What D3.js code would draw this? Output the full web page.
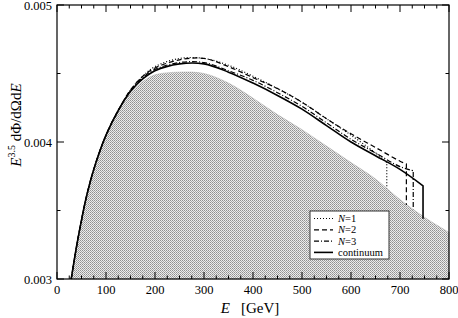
<!DOCTYPE html>
<html>
<head>
<meta charset="utf-8">
<script src="https://cdn.jsdelivr.net/npm/d3@7"></script>
<style>
body { margin: 0; background: #fff; }
svg text { font-family: "Liberation Serif", "Times New Roman", serif; }
</style>
</head>
<body>
<div id="chart"></div>
<script>
// energies (GeV) and values for each curve
var shadeE = [29, 40, 50, 60, 75, 100, 125, 150, 175, 200, 250, 300, 350, 400, 450, 500, 550, 600, 650, 700, 750, 800];
var shadeV = [0.00300, 0.00324, 0.00343, 0.00360, 0.00380, 0.00405, 0.00423, 0.00436, 0.00444, 0.00449, 0.00451, 0.00450, 0.00443, 0.00432, 0.00420, 0.00409, 0.00397, 0.00385, 0.00373, 0.00358, 0.00345, 0.00334];

var lineE = [29, 40, 50, 60, 75, 100, 125, 150, 175, 200, 250, 300, 350, 400, 450, 500, 550, 600, 650, 700, 750];
var contV = [0.00300, 0.00324, 0.00343, 0.00360, 0.00380, 0.00405, 0.00423, 0.00437, 0.00446, 0.00452, 0.00457, 0.00457, 0.00451, 0.00443, 0.00434, 0.00424, 0.00412, 0.00400, 0.00390, 0.00380, 0.00368];
var n1V = [0.00300, 0.00324, 0.00343, 0.00360, 0.00380, 0.00405, 0.00423, 0.00438, 0.00448, 0.00455, 0.00461, 0.00461, 0.00456, 0.00448, 0.00439, 0.00429, 0.00417, 0.00405, 0.00392];
var n2V = [0.00300, 0.00324, 0.00343, 0.00360, 0.00380, 0.00405, 0.00423, 0.00438, 0.00448, 0.00454, 0.00460, 0.00461, 0.00455, 0.00447, 0.00439, 0.00429, 0.00417, 0.00406, 0.00396, 0.00386];
var n3V = [0.00300, 0.00324, 0.00343, 0.00360, 0.00380, 0.00405, 0.00423, 0.00437, 0.00447, 0.00453, 0.00458, 0.00458, 0.00452, 0.00445, 0.00436, 0.00426, 0.00414, 0.00402, 0.00392, 0.00382];

// where each curve stops and how far its vertical edge drops
var endE = [673, 713, 727, 747];
var endTop = [0.00385, 0.00384, 0.00379, 0.00368];
var endBottom = [0.00366, 0.00354, 0.00351, 0.00344];

var seriesNames = ["N=1", "N=2", "N=3", "continuum"];
var dashes = ["1,2", "5,3", "5,2,1,2", null];

var xTicks = [0, 100, 200, 300, 400, 500, 600, 700, 800];
var yTicks = [0.003, 0.004, 0.005];

var W = 458, H = 318;
var svg = d3.select("#chart").append("svg").attr("width", W).attr("height", H);

var x = d3.scaleLinear().domain([0, 800]).range([57, 449]);
var y = d3.scaleLinear().domain([0.003, 0.005]).range([279, 5]);

// stipple pattern
var defs = svg.append("defs");
var pat = defs.append("pattern").attr("id", "stip").attr("patternUnits", "userSpaceOnUse")
    .attr("width", 2).attr("height", 2);
pat.append("rect").attr("width", 2).attr("height", 2).attr("fill", "#ececec");
pat.append("rect").attr("width", 1).attr("height", 1).attr("fill", "#909090");
pat.append("rect").attr("x", 1).attr("y", 1).attr("width", 1).attr("height", 1).attr("fill", "#a8a8a8");

var shadeData = shadeE.map(function (e, i) { return [e, shadeV[i]]; });
var area = d3.area().x(function (d) { return x(d[0]); })
    .y0(y(0.003)).y1(function (d) { return y(d[1]); })
    .curve(d3.curveCatmullRom.alpha(0.5));
svg.append("path").datum(shadeData).attr("d", area).attr("fill", "url(#stip)")
    .attr("stroke", "#aaa").attr("stroke-width", 0.5);

// curves
var allV = [n1V, n2V, n3V, contV];
var line = d3.line().x(function (d) { return x(d[0]); }).y(function (d) { return y(d[1]); })
    .curve(d3.curveCatmullRom.alpha(0.5));

allV.forEach(function (vals, k) {
    var pts = [];
    for (var i = 0; i < vals.length; i++) {
        if (lineE[i] < endE[k]) pts.push([lineE[i], vals[i]]);
    }
    pts.push([endE[k], endTop[k]]);
    svg.append("path")
        .attr("d", line(pts) + "L" + x(endE[k]) + "," + y(endBottom[k]))
        .attr("fill", "none")
        .attr("stroke", "#000")
        .attr("stroke-width", k === 3 ? 1.6 : 1.2)
        .attr("stroke-dasharray", dashes[k]);
});

// frame
svg.append("rect").attr("x", x(0)).attr("y", y(0.005))
    .attr("width", x(800) - x(0)).attr("height", y(0.003) - y(0.005))
    .attr("fill", "none").attr("stroke", "#000").attr("stroke-width", 1.2);

// ticks, inside on all four sides
var xMinor = d3.range(0, 801, 25);
var yMinor = d3.range(0.003, 0.00501, 0.0005);
var tk = svg.append("g").attr("stroke", "#000").attr("stroke-width", 1);
xMinor.forEach(function (v) {
    var len = (v % 100 === 0) ? 7 : 3.5;
    tk.append("line").attr("x1", x(v)).attr("x2", x(v)).attr("y1", y(0.003)).attr("y2", y(0.003) - len);
    tk.append("line").attr("x1", x(v)).attr("x2", x(v)).attr("y1", y(0.005)).attr("y2", y(0.005) + len);
});
yMinor.forEach(function (v, i) {
    var len = (i % 2 === 0) ? 7 : 3.5;
    tk.append("line").attr("y1", y(v)).attr("y2", y(v)).attr("x1", x(0)).attr("x2", x(0) + len);
    tk.append("line").attr("y1", y(v)).attr("y2", y(v)).attr("x1", x(800)).attr("x2", x(800) - len);
});

// tick labels
svg.selectAll(".xl").data(xTicks).enter().append("text")
    .attr("x", function (d) { return x(d); }).attr("y", 294)
    .attr("text-anchor", "middle").attr("font-size", 12.5).text(function (d) { return d; });
svg.selectAll(".yl").data(yTicks).enter().append("text")
    .attr("x", 52).attr("y", function (d) { return y(d) + 4.5; })
    .attr("text-anchor", "end").attr("font-size", 12.5).text(function (d) { return d3.format(".3f")(d); });

// axis titles
var xt = svg.append("text").attr("x", 250).attr("y", 313).attr("text-anchor", "middle").attr("font-size", 15);
xt.append("tspan").attr("font-style", "italic").text("E");
xt.append("tspan").attr("xml:space", "preserve").text("   [GeV]");

var yt = svg.append("text").attr("transform", "translate(21,125) rotate(-90)")
    .attr("text-anchor", "middle").attr("font-size", 15);
yt.append("tspan").attr("font-style", "italic").text("E");
yt.append("tspan").attr("font-size", 10).attr("dy", -6).text("3.5");
yt.append("tspan").attr("dy", 6).text(" d\u03A6/d\u03A9d");
yt.append("tspan").attr("font-style", "italic").text("E");

// legend
var lg = svg.append("g");
lg.append("rect").attr("x", 310).attr("y", 211).attr("width", 79).attr("height", 48)
    .attr("fill", "#fff").attr("stroke", "#333").attr("stroke-width", 1);
seriesNames.forEach(function (name, k) {
    var ly = 218.5 + k * 11.3;
    lg.append("line").attr("x1", 314).attr("x2", 333).attr("y1", ly).attr("y2", ly)
        .attr("stroke", "#000").attr("stroke-width", k === 3 ? 1.6 : 1.2)
        .attr("stroke-dasharray", dashes[k]);
    var t = lg.append("text").attr("x", 338).attr("y", ly + 3.5).attr("font-size", 10.5);
    if (name.charAt(0) === "N") {
        t.append("tspan").attr("font-style", "italic").text("N");
        t.append("tspan").text(name.slice(1));
    } else {
        t.text(name);
    }
});
</script>
</body>
</html>
